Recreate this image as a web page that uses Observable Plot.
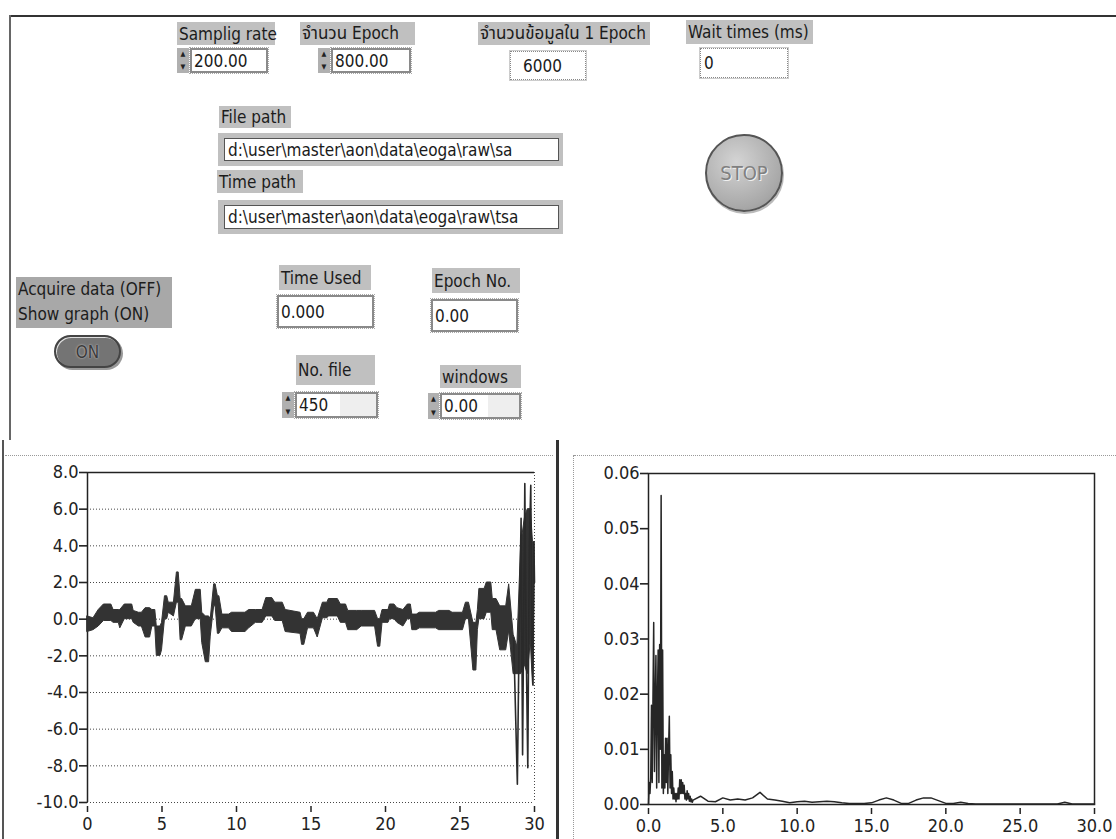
<!DOCTYPE html>
<html><head><meta charset="utf-8">
<script src="https://cdn.jsdelivr.net/npm/d3@7"></script>
<script src="https://cdn.jsdelivr.net/npm/@observablehq/plot@0.6"></script>
<style>
html,body{margin:0;padding:0;background:#fff;}
#panel{position:relative;width:1116px;height:839px;overflow:hidden;font-family:"DejaVu Sans Condensed","Liberation Sans Narrow","Noto Sans Thai","Loma","Garuda",sans-serif;color:#1a1a1a;}
#panel svg text{font-size:18px;}
.abs{position:absolute;box-sizing:border-box;}
.lbl{background-color:#c0c0c0;background-image:radial-gradient(#9c9c9c 0.6px,transparent 0.7px);background-size:2px 2px;font-size:17px;padding:0 2px;white-space:nowrap;color:#1c1c1c;display:flex;align-items:center;}
.box{background:#fff;border:2px solid #8a8a8a;outline:1px dotted #aaa;font-size:17px;padding-left:2px;display:flex;align-items:center;white-space:nowrap;}
.ind{background:#fff;border:1px dotted #888;outline:1px solid #ccc;font-size:17px;padding-left:3px;display:flex;align-items:center;}
.spin{background:#b0b0b0;color:#222;font-size:7px;line-height:10px;text-align:center;display:flex;flex-direction:column;justify-content:space-between;padding:1px 0;}
.path{background-color:#c0c0c0;background-image:radial-gradient(#9c9c9c 0.6px,transparent 0.7px);background-size:2px 2px;padding:5px 4px 5px 6px;}
.path div{background:#fff;border:1px solid #555;height:100%;box-sizing:border-box;font-size:17px;padding-left:3px;display:flex;align-items:center;white-space:nowrap;overflow:hidden;}
</style>
</head><body>
<div id="panel"></div>
<script>
// ---------------- data ----------------
const ctrlLabels = ["Samplig rate","จำนวน Epoch","จำนวนข้อมูลใน 1 Epoch","Wait times (ms)","File path","Time path","Time Used","Epoch No.","No. file","windows"];
const ctrlValues = ["200.00","800.00","6000","0","d:\\user\\master\\aon\\data\\eoga\\raw\\sa","d:\\user\\master\\aon\\data\\eoga\\raw\\tsa","0.000","0.00","450","0.00"];
const switchLabel = ["Acquire data (OFF)","Show graph (ON)"];
const switchText = "ON";
const stopText = "STOP";

// left chart: EOG signal (seconds vs amplitude), upper/lower envelope of the trace
const timeT  = [0.0,0.4,0.75,1.1,1.6,1.75,2.1,2.2,2.5,3.0,3.1,3.45,3.65,3.9,4.2,4.35,4.55,4.65,4.9,5.0,5.2,5.35,5.45,5.8,6.0,6.12,6.25,6.35,6.6,7.0,7.27,7.6,7.7,7.94,8.16,8.27,8.5,8.6,8.75,8.85,9.05,9.5,9.7,10.6,10.85,11.3,11.75,12.0,12.4,12.6,13.1,13.3,14.3,14.4,14.55,14.8,15.2,15.45,15.8,16.1,16.2,16.8,17.0,17.35,17.5,18.1,18.4,19.3,19.5,19.65,19.8,20.2,20.3,20.6,20.8,21.2,21.5,21.7,21.8,22.1,22.3,23.4,23.6,24.3,24.5,25.2,25.4,25.6,25.9,26.1,26.2,26.3,26.65,26.8,27.1,27.2,27.45,27.7,28.1,28.3,28.6,28.85,29.1,29.35,29.55,29.75,29.9,30.0];
const bandHi = [0.15,0.05,0.5,0.8,0.8,0.5,0.5,0.5,0.8,0.8,0.45,0.35,0.35,0.6,0.6,0.5,0.5,-0.4,-0.4,-0.2,1.25,1.25,0.9,0.9,2.55,2.55,1.1,1.1,0.7,0.7,1.6,1.6,0.35,0.15,0.15,0.0,1.9,1.9,1.25,1.25,0.25,0.25,0.35,0.35,0.5,0.5,0.5,1.15,1.15,0.9,0.9,0.5,0.35,0.0,0.0,0.35,0.35,0.0,0.9,0.9,1.1,1.1,0.8,0.8,0.45,0.45,0.45,0.45,0.0,0.0,0.5,0.5,0.8,0.8,0.6,0.5,0.8,0.8,0.25,0.25,0.35,0.35,0.45,0.45,0.35,0.35,0.9,0.9,-0.2,-0.2,0.5,1.65,1.65,2.0,2.0,1.1,1.1,0.7,0.7,1.9,-0.85,-1.5,4.0,5.5,6.0,6.0,4.2,4.2];
const bandLo = [-0.7,-0.6,-0.4,-0.1,-0.1,-0.2,-0.2,-0.5,0.0,0.0,-0.2,-0.4,-0.4,-1.0,-1.0,-0.4,-0.4,-2.0,-2.0,-1.7,0.0,0.0,0.35,0.15,0.9,0.9,-1.15,-1.15,-0.4,-0.4,0.0,0.0,-1.3,-2.35,-2.35,-0.95,0.7,0.7,-0.8,-0.8,-0.5,-0.5,-0.7,-0.7,-0.5,-0.2,-0.2,0.15,0.15,-0.1,-0.1,-0.7,-0.8,-1.4,-1.4,-0.5,-0.5,-1.0,0.05,0.05,0.15,0.15,-0.2,-0.2,-0.6,-0.6,-0.4,-0.4,-1.5,-1.5,-0.2,-0.2,0.0,0.0,-0.2,-0.4,0.0,0.0,-0.6,-0.6,-0.5,-0.5,-0.6,-0.6,-0.6,-0.6,0.0,0.0,-2.8,-2.8,-0.6,0.0,0.0,0.35,0.35,-0.6,-0.6,-1.7,-1.7,-0.65,-3.0,-3.0,-3.0,-2.5,-3.0,-1.2,-3.6,1.7];
// large swings at the end of the record
const swingT = [28.6,28.85,28.95,29.1,29.2,29.35,29.45,29.55,29.65,29.75,29.82,29.9,29.96,30.0];
const swingV = [-1.0,-9.0,-2.0,5.5,-7.4,7.4,-2.0,-8.1,4.0,7.3,-1.2,-3.6,4.2,2.0];

// right chart: spectrum (Hz vs power)
const specF = [0.00,0.05,0.10,0.15,0.20,0.25,0.30,0.35,0.40,0.45,0.50,0.55,0.60,0.65,0.70,0.75,0.80,0.85,0.90,0.95,1.00,1.05,1.10,1.15,1.20,1.25,1.30,1.35,1.40,1.45,1.50,1.55,1.60,1.65,1.70,1.75,1.80,1.85,1.90,1.95,2.00,2.05,2.10,2.15,2.20,2.25,2.30,2.35,2.40,2.45,2.50,2.55,2.60,2.65,2.70,2.75,2.80,2.85,2.90,2.95,3.00,3.5,4.0,4.5,5.0,5.5,6.0,6.5,7.0,7.5,8.0,8.5,9.0,9.5,10.0,10.5,11.0,11.5,12.0,12.5,13.0,13.5,14.0,14.5,15.0,15.5,16.0,16.5,17.0,17.5,18.0,18.5,19.0,19.5,20.0,20.5,21.0,21.5,22.0,23.0,24.0,25.0,26.0,27.0,27.5,28.0,28.5,29.0,30.0];
const specV = [0.000,0.004,0.002,0.005,0.018,0.004,0.019,0.033,0.006,0.018,0.027,0.003,0.019,0.028,0.004,0.029,0.010,0.056,0.003,0.028,0.002,0.009,0.003,0.012,0.004,0.012,0.002,0.010,0.016,0.003,0.009,0.002,0.006,0.001,0.003,0.001,0.002,0.0005,0.002,0.001,0.003,0.001,0.0045,0.002,0.0045,0.002,0.004,0.002,0.0035,0.001,0.002,0.0008,0.0025,0.001,0.002,0.0006,0.0015,0.0005,0.001,0.0004,0.0008,0.0015,0.0006,0.0005,0.0012,0.0008,0.0010,0.0008,0.0012,0.0022,0.0010,0.0008,0.0006,0.0003,0.0005,0.0006,0.0004,0.0005,0.0006,0.0005,0.0003,0.0002,0.0002,0.0002,0.0003,0.0008,0.0012,0.0008,0.0002,0.0002,0.0008,0.0012,0.0012,0.0007,0.0002,0.0002,0.0004,0.0002,0.0001,0.0001,0.0001,0.0001,0.0001,0.0001,0.0001,0.0004,0.0001,0.0001,0.0001];

const leftXTicks = [0,5,10,15,20,25,30];
const leftYTicks = [-10,-8,-6,-4,-2,0,2,4,6,8];
const rightXTicks = [0,5,10,15,20,25,30];
const rightYTicks = [0,0.01,0.02,0.03,0.04,0.05,0.06];

// ---------------- panel widgets ----------------
const panel = document.getElementById("panel");
function el(cls, x, y, w, h, html, extra) {
  const d = document.createElement("div");
  d.className = "abs " + cls;
  Object.assign(d.style, {left: x + "px", top: y + "px", width: w + "px", height: h + "px"}, extra || {});
  d.innerHTML = html;
  panel.appendChild(d);
  return d;
}
function esc(s){return s.replace(/&/g,"&amp;").replace(/</g,"&lt;");}
// frame lines
el("", 11, 15, 1105, 2, "", {background: "#333"});
el("", 9, 15, 2, 425, "", {background: "#666"});
el("", 2, 440, 2, 399, "", {background: "#555"});
el("", 5, 455, 548, 1, "", {borderTop: "1px dotted #999"});
el("", 556, 440, 3, 399, "", {background: "#333"});
el("", 573, 455, 1, 384, "", {borderLeft: "1px dotted #999"});
el("", 574, 455, 542, 1, "", {borderTop: "1px dotted #999"});

// row 1
el("lbl", 177, 22, 98, 23, esc(ctrlLabels[0]));
el("spin", 177, 48, 12, 25, "<span>▲</span><span>▼</span>");
el("box", 190, 48, 78, 25, esc(ctrlValues[0]));
el("lbl", 300, 22, 115, 23, esc(ctrlLabels[1]));
el("spin", 318, 48, 12, 25, "<span>▲</span><span>▼</span>");
el("box", 331, 48, 80, 25, esc(ctrlValues[1]));
el("lbl", 478, 22, 172, 23, esc(ctrlLabels[2]));
el("ind", 510, 51, 76, 29, esc(ctrlValues[2]), {paddingLeft: "12px"});
el("lbl", 686, 20, 127, 24, esc(ctrlLabels[3]));
el("ind", 700, 48, 88, 30, esc(ctrlValues[3]));
// paths
el("lbl", 219, 106, 72, 22, esc(ctrlLabels[4]));
el("path", 218, 133, 345, 33, "<div>" + esc(ctrlValues[4]) + "</div>");
el("lbl", 217, 170, 86, 23, esc(ctrlLabels[5]));
el("path", 218, 200, 345, 34, "<div>" + esc(ctrlValues[5]) + "</div>");
// STOP button
el("", 705, 134, 78, 78, stopText, {borderRadius: "50%", border: "2px solid #555",
  background: "radial-gradient(circle at 40% 35%, #d4d4d4, #a8a8a8 70%, #8e8e8e)",
  color: "#808080", fontSize: "20px", display: "flex", alignItems: "center", justifyContent: "center",
  textShadow: "1px 1px 0 #f0f0f0", boxShadow: "1px 2px 0 #bbb"});
// switch
el("lbl", 16, 277, 156, 51, esc(switchLabel[0]) + "<br>" + esc(switchLabel[1]), {display: "block", lineHeight: "25px", fontSize: "17px", backgroundColor: "#a8a8a8"});
el("", 54, 335, 67, 33, switchText, {borderRadius: "17px", border: "2px solid #444",
  background: "#747474", color: "#3a3a3a", fontSize: "17px", display: "flex", alignItems: "center", justifyContent: "center",
  textShadow: "0 0 2px #d8d8d8", boxShadow: "1px 1px 0 #ddd inset, 2px 2px 0 #999"});
// time used / epoch no
el("lbl", 279, 265, 92, 25, esc(ctrlLabels[6]));
el("box", 277, 295, 97, 33, esc(ctrlValues[6]));
el("lbl", 432, 268, 88, 25, esc(ctrlLabels[7]));
el("box", 431, 299, 87, 33, esc(ctrlValues[7]));
// no file / windows
el("lbl", 296, 355, 79, 30, esc(ctrlLabels[8]));
el("spin", 282, 392, 12, 26, "<span>▲</span><span>▼</span>");
el("box", 295, 392, 83, 26, esc(ctrlValues[8]), {background: "#fff linear-gradient(90deg,#fff 55%,#eee 55%)"});
el("lbl", 440, 365, 81, 23, esc(ctrlLabels[9]));
el("spin", 428, 393, 11, 26, "<span>▲</span><span>▼</span>");
el("box", 440, 393, 81, 26, esc(ctrlValues[9]), {background: "#fff linear-gradient(90deg,#fff 60%,#eee 60%)"});

// ---------------- charts ----------------
const font = "'DejaVu Sans Condensed','Liberation Sans Narrow',sans-serif";
const leftData = timeT.map((t, i) => ({t, hi: bandHi[i], lo: bandLo[i]}));
const swing = swingT.map((t, i) => ({t, v: swingV[i]}));
const left = Plot.plot({
  width: 556, height: 384,
  marginLeft: 87, marginRight: 22, marginTop: 17, marginBottom: 37,
  style: {background: "transparent", fontFamily: font, fontSize: "18px", color: "#222", overflow: "visible"},
  x: {domain: [0, 30]},
  y: {domain: [-10, 8]},
  marks: [
    Plot.gridY(leftYTicks, {stroke: "#333", strokeOpacity: 0.9, strokeDasharray: "1,2"}),
    Plot.ruleX([30], {stroke: "#333", strokeOpacity: 0.9, strokeDasharray: "1,2"}),
    Plot.ruleY([8], {stroke: "#222", strokeWidth: 1.5}),
    Plot.ruleX([0], {stroke: "#222", strokeWidth: 1.5}),
    Plot.areaY(leftData, {x: "t", y1: "lo", y2: "hi", fill: "#333", stroke: "#333", strokeWidth: 1}),
    Plot.line(swing, {x: "t", y: "v", stroke: "#2a2a2a", strokeWidth: 1.6}),
    Plot.axisY(leftYTicks, {tickFormat: d => d.toFixed(1), tickSize: 8, tickPadding: 1, stroke: "#222", strokeWidth: 1.6, fontSize: 18, label: null}),
    Plot.axisX(leftXTicks, {tickFormat: d => String(d), tickSize: 6, tickPadding: 5, dy: 4, stroke: "#222", strokeWidth: 1.5, fontSize: 18, label: null})
  ]
});
left.style.position = "absolute"; left.style.left = "0px"; left.style.top = "455px";
panel.appendChild(left);

const spec = specF.map((f, i) => ({f, v: specV[i]}));
const right = Plot.plot({
  width: 556, height: 384,
  marginLeft: 88, marginRight: 22, marginTop: 18, marginBottom: 35,
  style: {background: "transparent", fontFamily: font, fontSize: "18px", color: "#222", overflow: "visible"},
  x: {domain: [0, 30]},
  y: {domain: [0, 0.06]},
  marks: [
    Plot.frame({stroke: "#222", strokeWidth: 1.5}),
    Plot.line(spec, {x: "f", y: "v", stroke: "#262626", strokeWidth: 1.5}),
    Plot.axisY(rightYTicks, {tickFormat: d => d.toFixed(2), tickSize: 8, tickPadding: 1, stroke: "#222", strokeWidth: 1.6, fontSize: 18, label: null}),
    Plot.axisX(rightXTicks, {tickFormat: d => d.toFixed(1), tickSize: 6, tickPadding: 5, dy: 4, stroke: "#222", strokeWidth: 1.5, fontSize: 18, label: null})
  ]
});
right.style.position = "absolute"; right.style.left = "560px"; right.style.top = "455px";
panel.appendChild(right);
</script>
</body></html>
